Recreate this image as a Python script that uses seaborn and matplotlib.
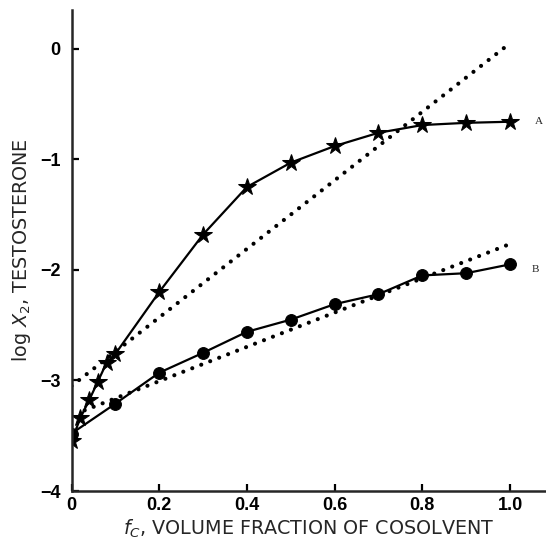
import matplotlib
matplotlib.use("Agg")
import matplotlib.pyplot as plt
import seaborn as sns
import pandas as pd

# ---- data ----
a_x = [0.0, 0.02, 0.04, 0.06, 0.08, 0.10, 0.20, 0.30, 0.40, 0.50, 0.60, 0.70, 0.80, 0.90, 1.00]
a_y = [-3.55, -3.34, -3.18, -3.01, -2.84, -2.76, -2.20, -1.68, -1.25, -1.03, -0.88, -0.76, -0.69, -0.67, -0.66]
b_x = [0.0, 0.10, 0.20, 0.30, 0.40, 0.50, 0.60, 0.70, 0.80, 0.90, 1.00]
b_y = [-3.48, -3.21, -2.93, -2.75, -2.56, -2.45, -2.31, -2.22, -2.05, -2.03, -1.95]
a_dot_x = [0.0, 1.0]
a_dot_y = [-3.05, 0.05]
b_dot_x = [0.03, 1.01]
b_dot_y = [-3.27, -1.75]
x_ticks = [0, 0.2, 0.4, 0.6, 0.8, 1.0]
x_ticklabels = ["0", "0.2", "0.4", "0.6", "0.8", "1.0"]
y_ticks = [0, -1, -2, -3, -4]
y_ticklabels = ["0", "\u22121", "\u22122", "\u22123", "\u22124"]

sns.set_style("ticks")
plt.rcParams["font.family"] = ["Liberation Sans", "DejaVu Sans"]

fig = plt.figure(figsize=(5.46, 5.41), dpi=100)
ax = fig.add_axes([0.131, 0.0924, 0.869, 0.889])

dfa = pd.DataFrame({"x": a_x, "y": a_y})
dfb = pd.DataFrame({"x": b_x, "y": b_y})

dot_kw = dict(color="black", linewidth=3.0, linestyle=(0, (0.01, 2.3)))
sns.lineplot(x=a_dot_x, y=a_dot_y, ax=ax, **dot_kw)
sns.lineplot(x=b_dot_x, y=b_dot_y, ax=ax, **dot_kw)
for ln in ax.lines:
    ln.set_dash_capstyle("round")

sns.lineplot(data=dfa, x="x", y="y", ax=ax, color="black", linewidth=1.6,
             marker="*", markersize=13, markeredgecolor="black", markerfacecolor="black")
sns.lineplot(data=dfb, x="x", y="y", ax=ax, color="black", linewidth=1.6,
             marker="o", markersize=8.5, markeredgecolor="black", markerfacecolor="black")

ax.text(1.050, -2.0, "B", fontsize=8, family="Liberation Serif", va="center", ha="left")
ax.text(1.056, -0.66, "A", fontsize=8, family="Liberation Serif", va="center", ha="left")

ax.set_xlim(0, 1.082)
ax.set_ylim(-4, 0.35)
sns.despine(ax=ax)
for s in ["left", "bottom"]:
    ax.spines[s].set_linewidth(1.8)

ax.set_xticks(x_ticks)
ax.set_xticklabels(x_ticklabels, fontsize=13, fontweight="bold")
ax.set_yticks(y_ticks)
ax.set_yticklabels(y_ticklabels, fontsize=13, fontweight="bold")
ax.tick_params(axis="both", direction="in", width=1.6, length=5, colors="black")
ax.tick_params(axis="y", pad=8)
ax.tick_params(axis="x", pad=4)

ax.set_xlabel("$\\it{f_C}$, VOLUME FRACTION OF COSOLVENT", fontsize=13.8,
              family="DejaVu Sans", labelpad=3)
ax.set_ylabel("log $\\it{X}_2$, TESTOSTERONE", fontsize=13.8,
              family="DejaVu Sans", labelpad=5)

fig.savefig("out.png", dpi=100)
